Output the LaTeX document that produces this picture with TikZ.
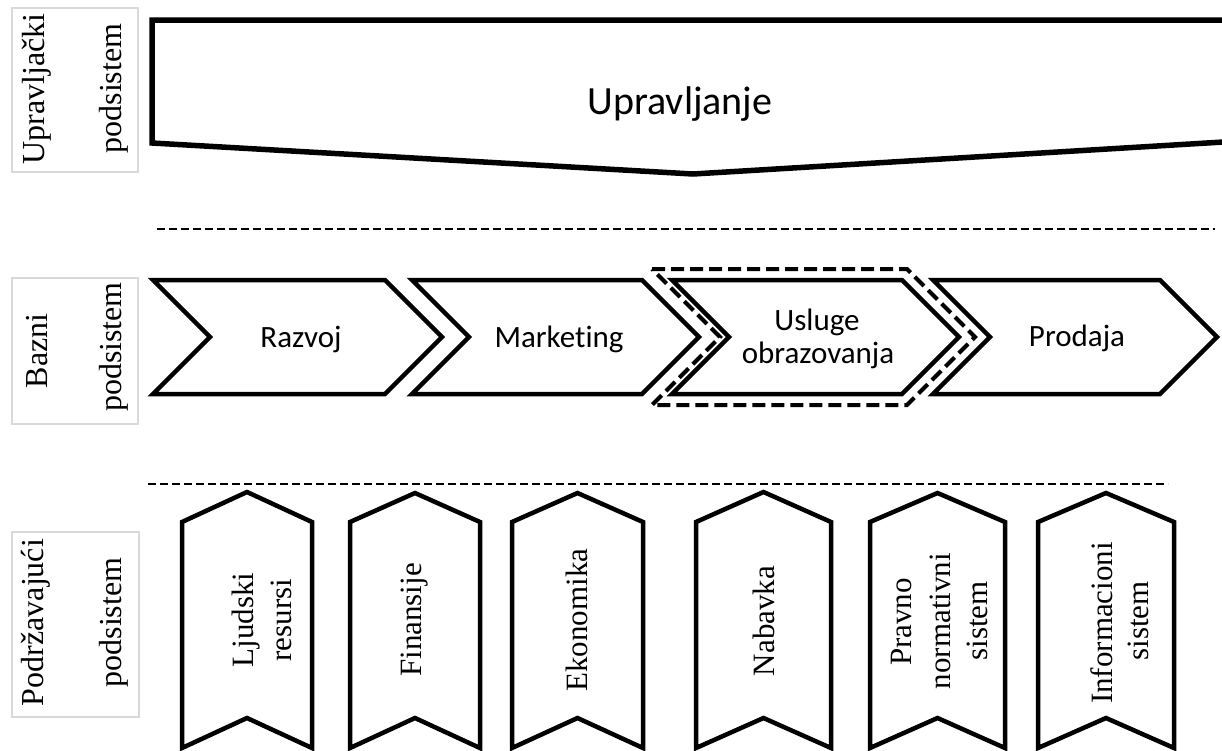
\documentclass[tikz,border=0pt]{standalone}
\usepackage{fontspec}
\setmainfont{Liberation Serif}
\newfontfamily\calfont[Ligatures=NoCommon]{Carlito}
\definecolor{boxgray}{HTML}{D9D9D9}
\tikzset{
  labelbox/.style={draw=boxgray, line width=2pt, inner sep=0pt},
  vtext/.style={rotate=90, inner sep=0pt, anchor=center, font=\fontsize{32}{37}\selectfont},
  ctext/.style={rotate=90, inner sep=0pt, anchor=center, font=\fontsize{31}{37}\selectfont},
  htext/.style={inner sep=0pt, anchor=base, font=\calfont\fontsize{31}{33}\selectfont},
  proc/.style={draw=black, fill=white, line width=4.5pt, line join=miter},
  topshape/.style={draw=black, line width=5.5pt, line join=miter},
  sepline/.style={draw=black, line width=1.8pt, dash pattern=on 8pt off 4pt},
  hilite/.style={draw=black, line width=4pt, dash pattern=on 13pt off 6pt, line join=miter}
}
\begin{document}
\begin{tikzpicture}[x=1pt,y=-1pt]
\useasboundingbox (0,0) rectangle (1222,750);
\clip (0,0) rectangle (1222,750);
\fill[white] (0,0) rectangle (1222,750);

% ---------- left label boxes ----------
\node[labelbox, minimum width=126pt, minimum height=164pt] (lb1) at (75,90) {};
\node[vtext] (lb1a) at (36.5,89) {Upravljački};
\node[vtext] (lb1b) at (114,88.5) {podsistem};

\node[labelbox, minimum width=126pt, minimum height=146pt] (lb2) at (75,351) {};
\node[vtext] (lb2a) at (37,351) {Bazni};
\node[vtext] (lb2b) at (114,347) {podsistem};

\node[labelbox, minimum width=127pt, minimum height=185pt] (lb3) at (75.5,624.5) {};
\node[vtext] (lb3a) at (36,622.5) {Podržavajući};
\node[vtext] (lb3b) at (114,622.5) {podsistem};

% ---------- top shape ----------
\draw[topshape] (1240,20) -- (152,20) -- (152,143) -- (693,174) -- (1240,141);
\node[htext, font=\calfont\fontsize{40}{44}\selectfont] (upr) at (680,114) {Upravljanje};

% ---------- separators ----------
\draw[sepline] (157,229) -- (1215,229);
\draw[sepline] (148,484) -- (1168,484);

% ---------- base chevrons ----------
\draw[proc] (153,280) -- (385,280) -- (442,337) -- (385,394) -- (153,394) -- (210,337) -- cycle;
\node[htext] (raz) at (301,347) {Razvoj};

\draw[proc] (412,280) -- (642,280) -- (699,337) -- (642,394) -- (412,394) -- (469,337) -- cycle;
\node[htext] (mar) at (559,347) {Marketing};

\draw[proc] (672,280) -- (902,280) -- (959,337) -- (902,394) -- (672,394) -- (729,337) -- cycle;
\node[htext] (usl1) at (817,330) {Usluge};
\node[htext] (usl2) at (818,363) {obrazovanja};

\draw[proc] (933,280) -- (1160,280) -- (1217,337) -- (1160,394) -- (933,394) -- (990,337) -- cycle;
\node[htext] (pro) at (1077,346) {Prodaja};

\draw[hilite] (652,269) -- (907,269) -- (975,337) -- (907,405) -- (652,405) -- (720,337) -- cycle;

% ---------- supporting chevrons ----------
\draw[proc] (182,522) -- (247,492) -- (312,522) -- (312,748) -- (247,718) -- (182,748) -- cycle;
\node[ctext] (lj1) at (246,620) {Ljudski};
\node[ctext] (lj2) at (281,620) {resursi};

\draw[proc] (350,522) -- (415,493) -- (480,522) -- (480,748) -- (415,718) -- (350,748) -- cycle;
\node[ctext] (fin) at (415,620) {Finansije};

\draw[proc] (512,522) -- (577.5,493) -- (643,522) -- (643,748) -- (577.5,718) -- (512,748) -- cycle;
\node[ctext] (eko) at (576.5,620) {Ekonomika};

\draw[proc] (696,522) -- (763.5,492) -- (831,522) -- (831,748) -- (763.5,718) -- (696,748) -- cycle;
\node[ctext] (nab) at (763.5,621) {Nabavka};

\draw[proc] (870,522) -- (937.5,493) -- (1005,522) -- (1005,748) -- (937.5,718) -- (870,748) -- cycle;
\node[ctext] (pr1) at (901,622) {Pravno};
\node[ctext] (pr2) at (940,621) {normativni};
\node[ctext] (pr3) at (977,621) {sistem};

\draw[proc] (1038,522) -- (1106,493) -- (1174,522) -- (1174,748) -- (1106,718) -- (1038,748) -- cycle;
\node[ctext] (inf1) at (1102,623) {Informacioni};
\node[ctext] (inf2) at (1138,621) {sistem};
\end{tikzpicture}
\end{document}
